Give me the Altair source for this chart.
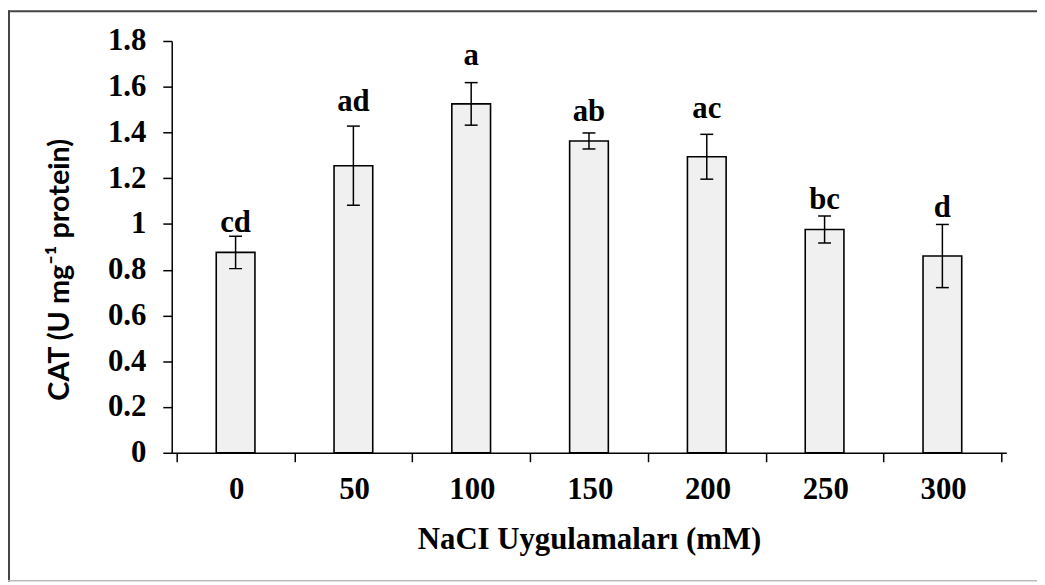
import json
import altair as alt
import pandas as pd

# ---- data ----
categories = ["0", "50", "100", "150", "200", "250", "300"]
cat_means = [0.876, 1.255, 1.525, 1.363, 1.294, 0.976, 0.860]
cat_errors = [0.071, 0.173, 0.093, 0.035, 0.098, 0.059, 0.138]
sig_letters = ["cd", "ad", "a", "ab", "ac", "bc", "d"]
letter_y = [0.963, 1.494, 1.693, 1.450, 1.465, 1.067, 1.030]
y_ticks = [0, 0.2, 0.4, 0.6, 0.8, 1, 1.2, 1.4, 1.6, 1.8]

df = pd.DataFrame({
    "cat": categories,
    "pos": [i + 0.5 for i in range(len(categories))],
    "mean": cat_means,
    "err": cat_errors,
    "letter": sig_letters,
    "ly": letter_y,
})

W, H = 841, 415
SERIF = "Liberation Serif"
FS = 31
n = len(categories)

label_expr = "datum.value < %d ? %s[datum.value] : ''" % (n, json.dumps(categories))

x_enc = alt.X(
    "pos:Q",
    scale=alt.Scale(domain=[0, n], nice=False, zero=False),
    axis=alt.Axis(
        values=list(range(n + 1)),
        labelExpr=label_expr,
        labelOffset=W / n / 2,
        labelFlush=False,
        labelOverlap=False,
        labelPadding=13,
        grid=False,
        title="NaCI Uygulamaları (mM)",
        titleFont=SERIF,
        titleFontSize=31,
        titleFontWeight="bold",
        titleColor="black",
        titleBaseline="alphabetic",
        titleY=96,
        titleX=W / 2,
    ),
)

y_scale = alt.Scale(domain=[0, 1.8], nice=False, zero=True)
y_enc = alt.Y(
    "mean:Q",
    scale=y_scale,
    axis=alt.Axis(
        values=y_ticks,
        format="~g",
        grid=False,
        labelPadding=17,
        title="CAT (U mg⁻¹ protein)",
        titleFont="Lato",
        titleFontSize=29,
        titleFontWeight="bold",
        titleColor="black",
        titleAngle=270,
        titleAlign="center",
        titleBaseline="alphabetic",
        titleX=-104,
        titleY=230,
    ),
)

base = alt.Chart(df)

bars = base.mark_bar(width=39, fill="#f0f0f0", stroke="black", strokeWidth=1.6).encode(
    x=x_enc, y=y_enc
)

err_rule = base.transform_calculate(
    lo="datum.mean - datum.err", hi="datum.mean + datum.err"
).mark_rule(color="black", strokeWidth=1.5).encode(
    x="pos:Q", y=alt.Y("lo:Q", scale=y_scale), y2="hi:Q"
)

cap_hi = base.transform_calculate(hi="datum.mean + datum.err").mark_tick(
    orient="horizontal", size=13, thickness=1.5, color="black", opacity=1
).encode(x="pos:Q", y=alt.Y("hi:Q", scale=y_scale))

cap_lo = base.transform_calculate(lo="datum.mean - datum.err").mark_tick(
    orient="horizontal", size=13, thickness=1.5, color="black", opacity=1
).encode(x="pos:Q", y=alt.Y("lo:Q", scale=y_scale))

letters = base.mark_text(
    font=SERIF, fontSize=FS, fontWeight="bold", color="black", baseline="alphabetic", align="center"
).encode(x="pos:Q", y=alt.Y("ly:Q", scale=y_scale), text="letter:N")

frame = pd.DataFrame({"k": [0]})
top_line = alt.Chart(frame).mark_rule(color="#444444", strokeWidth=2).encode(
    x=alt.value(-165), x2=alt.value(W + 40), y=alt.value(-30)
)
left_line = alt.Chart(frame).mark_rule(color="#444444", strokeWidth=2).encode(
    x=alt.value(-164), y=alt.value(-31), y2=alt.value(H + 130)
)
bottom_line = alt.Chart(frame).mark_rule(color="#bbbbbb", strokeWidth=1.5).encode(
    x=alt.value(-165), x2=alt.value(W + 40), y=alt.value(H + 129)
)

chart = alt.layer(
    bars, err_rule, cap_hi, cap_lo, letters, top_line, left_line, bottom_line
).properties(
    width=W,
    height=H,
    autosize=alt.AutoSizeParams(type="none"),
    padding={"left": 165, "top": 31, "right": 31, "bottom": 131},
    background="white",
).configure_view(stroke=None).configure_axis(
    domainColor="black",
    domainWidth=1.5,
    tickColor="black",
    tickWidth=1.5,
    tickSize=9,
    labelFont=SERIF,
    labelFontSize=FS,
    labelFontWeight="bold",
    labelColor="black",
)

chart.save("out.html", embed_options={"renderer": "svg", "actions": False})
